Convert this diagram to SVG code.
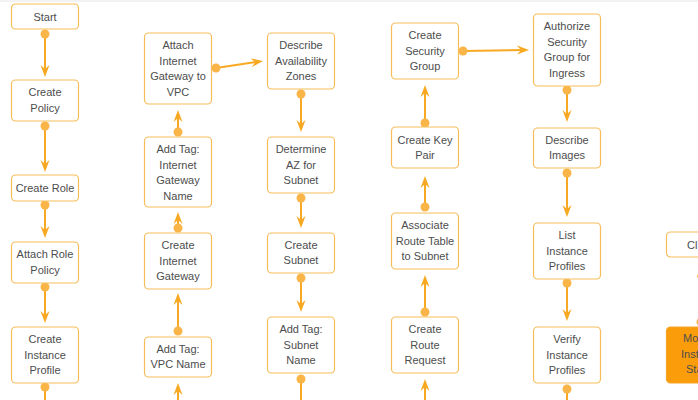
<svg xmlns="http://www.w3.org/2000/svg" width="698" height="400" viewBox="0 0 698 400">
<defs>
<style>
.box{fill:#fff;stroke:#f6bd5a;stroke-width:1.2}
.fill{fill:#fb9d0a;stroke:#f6a42a;stroke-width:1.2}
text{font-family:"Liberation Sans",Arial,sans-serif;font-size:11px;fill:#4d4d4d;text-anchor:middle}
.edge{stroke:#f8a923;stroke-width:2;fill:none;marker-end:url(#ah)}
.plain{stroke:#f8a923;stroke-width:2;fill:none}
.dot{fill:#f9b548}
</style>
<marker id="ah" viewBox="0 0 12 10" refX="5" refY="5" markerWidth="12" markerHeight="10" markerUnits="userSpaceOnUse" orient="auto">
<path d="M0,0.5 L12,5 L0,9.5 L4,5 Z" fill="#f8a923"/>
</marker>
</defs>
<rect x="0" y="0" width="698" height="400" fill="#fff"/>
<line x1="0" y1="1" x2="698" y2="1" stroke="#e6e6e6" stroke-width="1"/>

<g id="connectors">
<!-- col1 -->
<line class="edge" x1="45" y1="34" x2="45" y2="70"/><circle class="dot" cx="45" cy="34" r="4.5"/>
<line class="edge" x1="45" y1="126" x2="45" y2="165"/><circle class="dot" cx="45" cy="126" r="4.5"/>
<line class="edge" x1="45" y1="205" x2="45" y2="231"/><circle class="dot" cx="45" cy="205" r="4.5"/>
<line class="edge" x1="45" y1="287" x2="45" y2="316"/><circle class="dot" cx="45" cy="287" r="4.5"/>
<line class="plain" x1="45" y1="387" x2="45" y2="400"/><circle class="dot" cx="45" cy="387" r="4.5"/>
<!-- col2 -->
<line class="edge" x1="178" y1="400" x2="178" y2="390"/>
<line class="edge" x1="178" y1="331" x2="178" y2="300"/><circle class="dot" cx="178" cy="331" r="4.5"/>
<line class="edge" x1="178" y1="228" x2="178" y2="219"/><circle class="dot" cx="178" cy="228" r="4.5"/>
<line class="edge" x1="178" y1="132" x2="178" y2="117"/><circle class="dot" cx="178" cy="132" r="4.5"/>
<line class="edge" x1="216" y1="68" x2="256.1" y2="62"/><circle class="dot" cx="216" cy="68" r="4.5"/>
<!-- col3 -->
<line class="edge" x1="301" y1="94" x2="301" y2="125"/><circle class="dot" cx="301" cy="94" r="4.5"/>
<line class="edge" x1="301" y1="198" x2="301" y2="221"/><circle class="dot" cx="301" cy="198" r="4.5"/>
<line class="edge" x1="301" y1="278" x2="301" y2="305"/><circle class="dot" cx="301" cy="278" r="4.5"/>
<line class="plain" x1="301" y1="379" x2="301" y2="400"/><circle class="dot" cx="301" cy="379" r="4.5"/>
<!-- col4 -->
<line class="edge" x1="425" y1="400" x2="425" y2="386"/>
<line class="edge" x1="425" y1="312" x2="425" y2="282"/><circle class="dot" cx="425" cy="312" r="4.5"/>
<line class="edge" x1="425" y1="207" x2="425" y2="183"/><circle class="dot" cx="425" cy="207" r="4.5"/>
<line class="edge" x1="425" y1="123" x2="425" y2="92"/><circle class="dot" cx="425" cy="123" r="4.5"/>
<line class="edge" x1="463" y1="51" x2="522" y2="50"/><circle class="dot" cx="463" cy="51" r="4.5"/>
<!-- col5 -->
<line class="edge" x1="567" y1="90" x2="567" y2="115"/><circle class="dot" cx="567" cy="90" r="4.5"/>
<line class="edge" x1="567" y1="173" x2="567" y2="210"/><circle class="dot" cx="567" cy="173" r="4.5"/>
<line class="edge" x1="567" y1="283" x2="567" y2="314"/><circle class="dot" cx="567" cy="283" r="4.5"/>
<line class="plain" x1="567" y1="389" x2="567" y2="400"/><circle class="dot" cx="567" cy="389" r="4.5"/>
<!-- col6 -->
<line class="edge" x1="701" y1="322" x2="701" y2="273"/><circle class="dot" cx="701" cy="322" r="4.5"/>
<line class="edge" x1="701" y1="410" x2="701" y2="400"/>
</g>

<g id="start"><rect class="box" x="11.5" y="4" width="67" height="25" rx="4"/><text x="45" y="21">Start</text></g>
<g id="createPolicy"><rect class="box" x="11.5" y="80" width="67" height="41" rx="4"/><text x="45" y="96">Create</text><text x="45" y="112">Policy</text></g>
<g id="createRole"><rect class="box" x="11.5" y="175" width="67" height="26" rx="4"/><text x="45" y="192">Create Role</text></g>
<g id="attachRolePolicy"><rect class="box" x="11.5" y="242" width="67" height="41" rx="4"/><text x="45" y="258">Attach Role</text><text x="45" y="274">Policy</text></g>
<g id="createInstanceProfile"><rect class="box" x="11.5" y="327" width="67" height="56" rx="4"/><text x="45" y="343">Create</text><text x="45" y="359">Instance</text><text x="45" y="374">Profile</text></g>

<g id="attachIGW"><rect class="box" x="144.5" y="33" width="67" height="71" rx="4"/><text x="178" y="49">Attach</text><text x="178" y="65">Internet</text><text x="178" y="80">Gateway to</text><text x="178" y="96">VPC</text></g>
<g id="addTagIGN"><rect class="box" x="144.5" y="137" width="67" height="70" rx="4"/><text x="178" y="153">Add Tag:</text><text x="178" y="169">Internet</text><text x="178" y="184">Gateway</text><text x="178" y="200">Name</text></g>
<g id="createIGW"><rect class="box" x="144.5" y="233" width="67" height="56" rx="4"/><text x="178" y="249">Create</text><text x="178" y="265">Internet</text><text x="178" y="280">Gateway</text></g>
<g id="addTagVPC"><rect class="box" x="144.5" y="337" width="67" height="40" rx="4"/><text x="178" y="353">Add Tag:</text><text x="178" y="368">VPC Name</text></g>

<g id="describeAZ"><rect class="box" x="267.5" y="33" width="67" height="56" rx="4"/><text x="301" y="49">Describe</text><text x="301" y="65">Availability</text><text x="301" y="80">Zones</text></g>
<g id="determineAZ"><rect class="box" x="267.5" y="137" width="67" height="56" rx="4"/><text x="301" y="153">Determine</text><text x="301" y="169">AZ for</text><text x="301" y="184">Subnet</text></g>
<g id="createSubnet"><rect class="box" x="267.5" y="233" width="67" height="40" rx="4"/><text x="301" y="249">Create</text><text x="301" y="264">Subnet</text></g>
<g id="addTagSubnet"><rect class="box" x="267.5" y="317" width="67" height="56" rx="4"/><text x="301" y="333">Add Tag:</text><text x="301" y="349">Subnet</text><text x="301" y="364">Name</text></g>

<g id="createSG"><rect class="box" x="391.5" y="23" width="67" height="56" rx="4"/><text x="425" y="39">Create</text><text x="425" y="55">Security</text><text x="425" y="70">Group</text></g>
<g id="createKeyPair"><rect class="box" x="391.5" y="127" width="67" height="41" rx="4"/><text x="425" y="144">Create Key</text><text x="425" y="159">Pair</text></g>
<g id="associateRT"><rect class="box" x="391.5" y="213" width="67" height="56" rx="4"/><text x="425" y="229">Associate</text><text x="425" y="245">Route Table</text><text x="425" y="260">to Subnet</text></g>
<g id="createRouteRequest"><rect class="box" x="391.5" y="317" width="67" height="56" rx="4"/><text x="425" y="333">Create</text><text x="425" y="349">Route</text><text x="425" y="364">Request</text></g>

<g id="authorizeSG"><rect class="box" x="533.5" y="14" width="67" height="72" rx="4"/><text x="567" y="30">Authorize</text><text x="567" y="46">Security</text><text x="567" y="61">Group for</text><text x="567" y="77">Ingress</text></g>
<g id="describeImages"><rect class="box" x="533.5" y="128" width="67" height="40" rx="4"/><text x="567" y="144">Describe</text><text x="567" y="159">Images</text></g>
<g id="listIP"><rect class="box" x="533.5" y="223" width="67" height="56" rx="4"/><text x="567" y="239">List</text><text x="567" y="255">Instance</text><text x="567" y="270">Profiles</text></g>
<g id="verifyIP"><rect class="box" x="533.5" y="327" width="67" height="56" rx="4"/><text x="567" y="343">Verify</text><text x="567" y="359">Instance</text><text x="567" y="374">Profiles</text></g>

<g id="close"><rect class="box" x="666.5" y="232" width="67" height="25" rx="4"/><text x="687" y="249" style="text-anchor:start">Cl</text></g>
<g id="monitor"><rect class="fill" x="666.5" y="327" width="67" height="56" rx="4"/><text x="683" y="342" style="text-anchor:start">Mo</text><text x="681" y="358" style="text-anchor:start">Inst</text><text x="686" y="373" style="text-anchor:start">Sta</text></g>
</svg>
